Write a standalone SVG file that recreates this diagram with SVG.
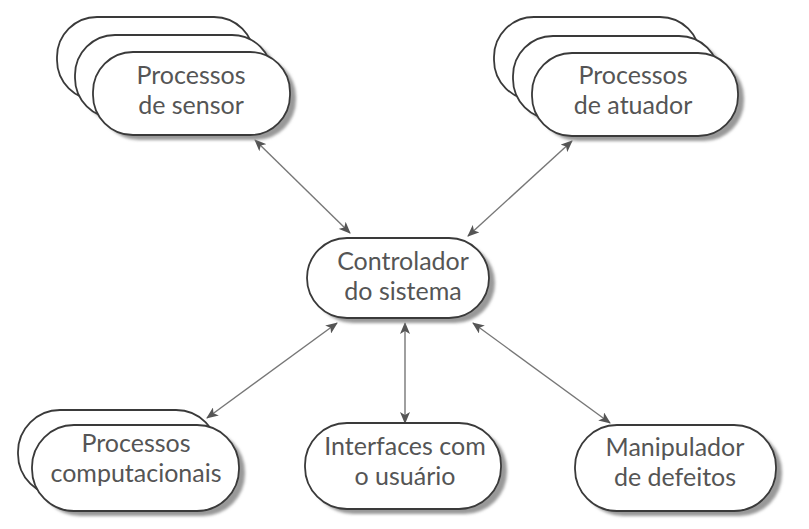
<svg xmlns="http://www.w3.org/2000/svg" width="809" height="529" viewBox="0 0 809 529">
<defs>
<filter id="sh" x="-10%" y="-10%" width="130%" height="140%">
<feGaussianBlur stdDeviation="1.5"/>
</filter>
<marker id="ah" viewBox="0 0 12 10" refX="11" refY="5" markerWidth="12" markerHeight="10" markerUnits="userSpaceOnUse" orient="auto-start-reverse">
<path d="M0,0 L12,5 L0,10 L3,5 Z" fill="#555"/>
</marker>
</defs>
<style>
.p{fill:#fff;stroke:#3a3a3a;stroke-width:1.8}
.s{fill:#999;filter:url(#sh)}
.t{font-family:Lato,"Open Sans",sans-serif;font-size:25px;fill:#555;text-anchor:middle}
.c{stroke:#777;stroke-width:1.4;fill:none;marker-start:url(#ah);marker-end:url(#ah)}
</style>
<rect width="809" height="529" fill="#fff"/>
<g id="connectors">
<line class="c" x1="255" y1="140" x2="350" y2="233"/>
<line class="c" x1="572" y1="141" x2="468" y2="236"/>
<line class="c" x1="337" y1="323" x2="207" y2="418"/>
<line class="c" x1="405" y1="323" x2="405" y2="423"/>
<line class="c" x1="473" y1="323" x2="610" y2="423"/>
</g>
<g id="sensor">
<rect class="p" x="57" y="17" width="197" height="83" rx="40" ry="40"/>
<rect class="s" x="81" y="40" width="197" height="83" rx="40" ry="40"/>
<rect class="p" x="75" y="35" width="197" height="83" rx="40" ry="40"/>
<rect class="s" x="99" y="57" width="197" height="83" rx="40" ry="40"/>
<rect class="p" x="93" y="52" width="197" height="83" rx="40" ry="40"/>
<text class="t" x="191" y="84">Processos</text>
<text class="t" x="191" y="114">de sensor</text>
</g>
<g id="atuador">
<rect class="p" x="494" y="17" width="206" height="83" rx="40" ry="40"/>
<rect class="s" x="519" y="41" width="206" height="83" rx="40" ry="40"/>
<rect class="p" x="513" y="36" width="206" height="83" rx="40" ry="40"/>
<rect class="s" x="538" y="58" width="206" height="83" rx="40" ry="40"/>
<rect class="p" x="532" y="53" width="206" height="83" rx="40" ry="40"/>
<text class="t" x="633" y="84">Processos</text>
<text class="t" x="633" y="114">de atuador</text>
</g>
<g id="controlador">
<rect class="s" x="313" y="243" width="182" height="80" rx="40" ry="40"/>
<rect class="p" x="307" y="238" width="182" height="80" rx="40" ry="40"/>
<text class="t" x="403" y="270">Controlador</text>
<text class="t" x="403" y="300">do sistema</text>
</g>
<g id="computacionais">
<rect class="p" x="18" y="410" width="200" height="86" rx="42" ry="42"/>
<rect class="s" x="38" y="430" width="207" height="86" rx="42" ry="42"/>
<rect class="p" x="32" y="425" width="207" height="86" rx="42" ry="42"/>
<text class="t" x="136" y="452">Processos</text>
<text class="t" x="136" y="482">computacionais</text>
</g>
<g id="interfaces">
<rect class="s" x="311" y="428" width="196" height="86" rx="42" ry="42"/>
<rect class="p" x="305" y="423" width="196" height="86" rx="42" ry="42"/>
<text class="t" x="405" y="455">Interfaces com</text>
<text class="t" x="405" y="485">o usuário</text>
</g>
<g id="manipulador">
<rect class="s" x="581" y="430" width="201" height="86" rx="42" ry="42"/>
<rect class="p" x="575" y="425" width="201" height="86" rx="42" ry="42"/>
<text class="t" x="675" y="456">Manipulador</text>
<text class="t" x="675" y="486">de defeitos</text>
</g>
</svg>
